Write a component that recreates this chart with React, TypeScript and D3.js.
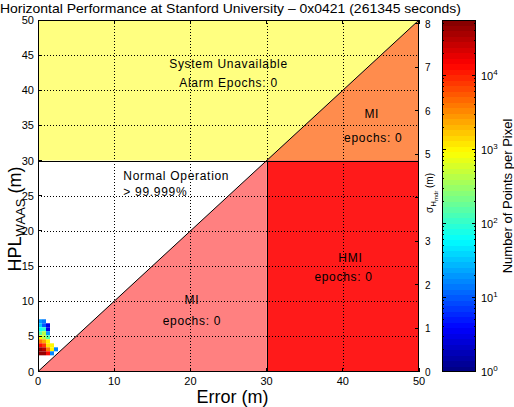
import React from "react";
import * as d3 from "d3";

// ---------- data ----------
const xTicks = [0, 10, 20, 30, 40, 50];
const yTicks = [0, 5, 10, 15, 20, 25, 30, 35, 40, 45, 50];
const xGrid = [10, 20, 30, 40];
const yGrid = [5, 10, 15, 20, 25, 30, 35, 40, 45];
const sigmaTicks = [0, 1, 2, 3, 4, 5, 6, 7, 8];
const sigmaLabelTicks = [0, 1, 2, 3, 5, 6, 7, 8];
const cbDecades = [0, 1, 2, 3, 4];
const cbMaxLog = 4.75;
const hplK = 6.18;
const alertLimit = 30;
const axisMax = 50;

// heat-map bins (metres): column left edges, row bottom edges (top row first)
const heatColEdges = [0, 0.525, 1.05, 1.575, 2.1];
const heatRowEdges = [6.86, 6.29, 5.72, 5.15, 4.58, 4.01, 3.44, 2.87, 2.3];
const heatBinW = 0.525;
const heatBinH = 0.57;
// points per pixel, one row per heatRowEdges entry (0 = empty)
const heatCounts = [
  [20, 13, 0, 0, 0],
  [32, 10, 3, 0, 0],
  [63, 100, 3, 0, 0],
  [160, 400, 20, 0, 0],
  [1000, 400, 160, 0, 0],
  [4000, 2500, 1000, 0, 0],
  [12600, 8000, 1260, 1000, 0],
  [40000, 32000, 4000, 1000, 16],
  [40000, 40000, 12600, 16, 0],
];

// ---------- helpers ----------
const FONT = "'Liberation Sans', Arial, Helvetica, sans-serif";
const clamp = (v: number) => Math.max(0, Math.min(1, v));
function jet(t: number) {
  const r = clamp(1.5 - Math.abs(4 * t - 3));
  const g = clamp(1.5 - Math.abs(4 * t - 2));
  const b = clamp(1.5 - Math.abs(4 * t - 1));
  return d3.rgb(r * 255, g * 255, b * 255).formatHex();
}
function jet64(t: number) {
  const i = Math.min(63, Math.max(0, Math.floor(t * 64)));
  return jet((i + 0.5) / 64);
}

const COL_YELLOW = "#ffff80";
const COL_ORANGE = "#ff8c4d";
const COL_RED = "#ff1a1a";
const COL_PINK = "#ff8080";

export default function App() {
  const L = 38, R = 419, T = 20, B = 371.5;
  const x = d3.scaleLinear().domain([0, axisMax]).range([L, R]);
  const y = d3.scaleLinear().domain([0, axisMax]).range([B, T]);
  const ys = d3.scaleLinear().domain([0, axisMax / hplK]).range([B, T]);
  const CBL = 442, CBR = 476;
  const cb = d3.scaleLinear().domain([0, cbMaxLog]).range([B, T]);

  const poly = (pts: [number, number][]) =>
    pts.map(([a, b]) => `${x(a)},${y(b)}`).join(" ");

  const cbSteps = d3.range(64);
  const minor: number[] = [];
  cbDecades.forEach((d) => {
    for (let k = 2; k <= 9; k++) {
      const v = d + Math.log10(k);
      if (v < cbMaxLog) minor.push(v);
    }
  });

  const tick = 4;
  const dash = "1,2";

  return (
    <svg width={514} height={407} style={{ position: "absolute", left: 0, top: 0, background: "#fff" }} fontFamily={FONT}>
      <rect x={0} y={0} width={514} height={407} fill="#fff" />
      {/* regions */}
      <polygon points={poly([[0, alertLimit], [alertLimit, alertLimit], [axisMax, axisMax], [0, axisMax]])} fill={COL_YELLOW} />
      <polygon points={poly([[alertLimit, alertLimit], [axisMax, alertLimit], [axisMax, axisMax]])} fill={COL_ORANGE} />
      <polygon points={poly([[alertLimit, 0], [axisMax, 0], [axisMax, alertLimit], [alertLimit, alertLimit]])} fill={COL_RED} />
      <polygon points={poly([[0, 0], [alertLimit, 0], [alertLimit, alertLimit]])} fill={COL_PINK} />

      {/* heat map */}
      {heatCounts.map((row, ri) =>
        row.map((c, ci) =>
          c > 0 ? (
            <rect
              key={`h${ri}-${ci}`}
              x={x(heatColEdges[ci])}
              y={y(heatRowEdges[ri] + heatBinH)}
              width={x(heatColEdges[ci] + heatBinW) - x(heatColEdges[ci])}
              height={y(heatRowEdges[ri]) - y(heatRowEdges[ri] + heatBinH)}
              fill={jet64(Math.log10(c) / cbMaxLog)}
            />
          ) : null
        )
      )}

      {/* grid */}
      <g stroke="#000" strokeWidth={1} strokeDasharray={dash} shapeRendering="crispEdges">
        {xGrid.map((v) => (
          <line key={`gx${v}`} x1={Math.round(x(v)) + 0.5} x2={Math.round(x(v)) + 0.5} y1={T} y2={B} />
        ))}
        {yGrid.map((v) => (
          <line key={`gy${v}`} x1={L} x2={R} y1={Math.round(y(v)) + 0.5} y2={Math.round(y(v)) + 0.5} />
        ))}
      </g>

      {/* region boundaries */}
      <g stroke="#000" strokeWidth={1} fill="none">
        <line x1={x(0)} y1={y(0)} x2={x(axisMax)} y2={y(axisMax)} />
        <line x1={x(0)} y1={Math.round(y(alertLimit)) + 0.5} x2={x(axisMax)} y2={Math.round(y(alertLimit)) + 0.5} />
        <line x1={Math.round(x(alertLimit)) + 0.5} y1={y(0)} x2={Math.round(x(alertLimit)) + 0.5} y2={y(alertLimit)} />
      </g>

      {/* axes box & ticks */}
      <g stroke="#000" strokeWidth={1} shapeRendering="crispEdges" fill="none">
        <rect x={L + 0.5} y={T + 0.5} width={R - L - 1} height={B - T - 1} />
        {xTicks.map((v) => (
          <g key={`xt${v}`}>
            <line x1={x(v)} x2={x(v)} y1={B} y2={B - tick} />
            <line x1={x(v)} x2={x(v)} y1={T} y2={T + tick} />
          </g>
        ))}
        {yTicks.map((v) => (
          <line key={`yt${v}`} x1={L} x2={L + tick} y1={y(v)} y2={y(v)} />
        ))}
        {sigmaTicks.map((v) => (
          <line key={`st${v}`} x1={R} x2={R - tick} y1={ys(v)} y2={ys(v)} />
        ))}
      </g>

      {/* tick labels */}
      <g fontSize={11} fill="#000">
        {xTicks.map((v) => (
          <text key={`xl${v}`} x={x(v)} y={B + 13} textAnchor="middle">{v}</text>
        ))}
        {yTicks.map((v) => (
          <text key={`yl${v}`} x={L - 4} y={y(v) + 4} textAnchor="end">{v}</text>
        ))}
      </g>
      <g fontSize={10} fill="#000">
        {sigmaLabelTicks.map((v) => (
          <text key={`sl${v}`} x={R + 6} y={ys(v) + 4}>{v}</text>
        ))}
      </g>

      {/* sigma axis label */}
      <text transform={`translate(433,193) rotate(-90)`} textAnchor="middle" fontSize={10}>
        σ<tspan dy={3} fontSize={8}>H</tspan>
        <tspan dy={2} fontSize={6}>mdr</tspan>
        <tspan dy={-5} fontSize={10}>{"  (m)"}</tspan>
      </text>

      {/* region texts */}
      <g fontSize={12} fill="#000" letterSpacing={0.7}>
        <text x={x(25)} y={y(43.2)} textAnchor="middle">System Unavailable</text>
        <text x={x(25)} y={y(40.5)} textAnchor="middle">Alarm Epochs: 0</text>
        <text x={x(11.2)} y={y(27.2)}>Normal Operation</text>
        <text x={x(11.2)} y={y(25.0)}>{"> 99.999%"}</text>
        <text x={x(43.8)} y={y(36.1)} textAnchor="middle">MI</text>
        <text x={x(44)} y={y(32.7)} textAnchor="middle">epochs: 0</text>
        <text x={x(41)} y={y(15.6)} textAnchor="middle">HMI</text>
        <text x={x(40.1)} y={y(12.9)} textAnchor="middle">epochs: 0</text>
        <text x={x(20.2)} y={y(9.6)} textAnchor="middle">MI</text>
        <text x={x(20.2)} y={y(6.6)} textAnchor="middle">epochs: 0</text>
      </g>

      {/* axis labels & title */}
      <text x={(L + R) / 2 + 4} y={403} textAnchor="middle" fontSize={18}>Error (m)</text>
      <text transform={`translate(21,219) rotate(-90)`} textAnchor="middle" fontSize={18}>
        HPL<tspan dy={4} fontSize={13}>WAAS</tspan>
        <tspan dy={-4}> (m)</tspan>
      </text>
      <text x={0} y={13} fontSize={13} textLength={461} lengthAdjust="spacingAndGlyphs">
        Horizontal Performance at Stanford University – 0x0421 (261345 seconds)
      </text>

      {/* colorbar */}
      <g shapeRendering="crispEdges">
        {cbSteps.map((i) => (
          <rect
            key={`cb${i}`}
            x={CBL}
            y={cb(((i + 1) * cbMaxLog) / 64)}
            width={CBR - CBL}
            height={cb((i * cbMaxLog) / 64) - cb(((i + 1) * cbMaxLog) / 64) + 0.5}
            fill={jet((i + 0.5) / 64)}
          />
        ))}
      </g>
      <g stroke="#000" strokeWidth={1} shapeRendering="crispEdges" fill="none">
        <rect x={CBL + 0.5} y={T + 0.5} width={CBR - CBL - 1} height={B - T - 1} />
        {cbDecades.map((v) => (
          <g key={`cbt${v}`}>
            <line x1={CBL} x2={CBL + 4} y1={cb(v)} y2={cb(v)} />
            <line x1={CBR} x2={CBR - 4} y1={cb(v)} y2={cb(v)} />
          </g>
        ))}
        {minor.map((v, i) => (
          <g key={`cbm${i}`}>
            <line x1={CBL} x2={CBL + 2} y1={cb(v)} y2={cb(v)} />
            <line x1={CBR} x2={CBR - 2} y1={cb(v)} y2={cb(v)} />
          </g>
        ))}
      </g>
      <g fontSize={11} fill="#000">
        {cbDecades.map((v) => (
          <text key={`cbl${v}`} x={CBR + 5} y={cb(v) + 4}>
            10<tspan dy={-5} fontSize={8}>{v}</tspan>
          </text>
        ))}
      </g>
      <text transform={`translate(512,196) rotate(-90)`} textAnchor="middle" fontSize={13}>
        Number of Points per Pixel
      </text>
    </svg>
  );
}
